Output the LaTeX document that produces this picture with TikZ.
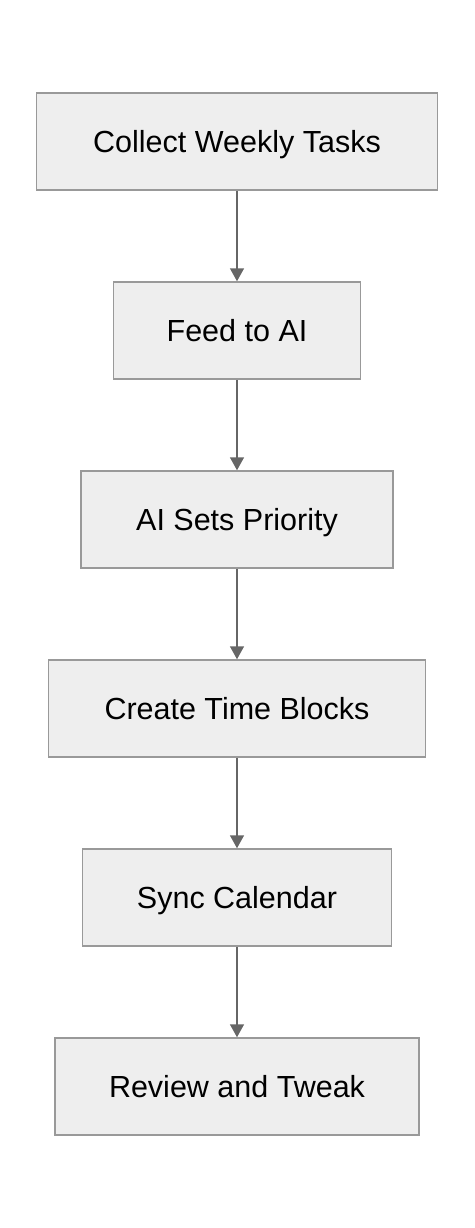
\documentclass[tikz,border=0pt]{standalone}
\usepackage{fontspec}
\setmainfont{Liberation Sans}
\usetikzlibrary{positioning,arrows.meta}
\definecolor{boxfill}{HTML}{EEEEEE}
\definecolor{boxline}{HTML}{999999}
\definecolor{arrowline}{HTML}{666666}
\begin{document}
\begin{tikzpicture}[x=1pt,y=1pt,
	stepbox/.style={draw=boxline, fill=boxfill, line width=1.5pt, minimum height=97pt,
		inner sep=0pt, text height=21.8pt, text depth=0pt,
		font=\fontsize{30.5}{36}\selectfont},
	flow/.style={draw=arrowline, line width=1.5pt, -{Triangle[length=13pt,width=14pt]}},
	node distance=90.5pt]
	%Canvas
	\useasboundingbox (0,0) rectangle (474,-1228);

	%The steps, top to bottom
	\node[stepbox, minimum width=401pt] (collect) at (237,-141.5) {Collect Weekly Tasks};
	\node[stepbox, minimum width=247pt, below=of collect] (feed) {Feed to AI};
	\node[stepbox, minimum width=312pt, below=of feed] (priority) {AI Sets Priority};
	\node[stepbox, minimum width=377pt, below=of priority] (blocks) {Create Time Blocks};
	\node[stepbox, minimum width=309pt, below=of blocks] (sync) {Sync Calendar};
	\node[stepbox, minimum width=364pt, below=of sync] (review) {Review and Tweak};

	%Arrows between steps
	\draw[flow] (collect) -- (feed);
	\draw[flow] (feed) -- (priority);
	\draw[flow] (priority) -- (blocks);
	\draw[flow] (blocks) -- (sync);
	\draw[flow] (sync) -- (review);
\end{tikzpicture}
\end{document}
